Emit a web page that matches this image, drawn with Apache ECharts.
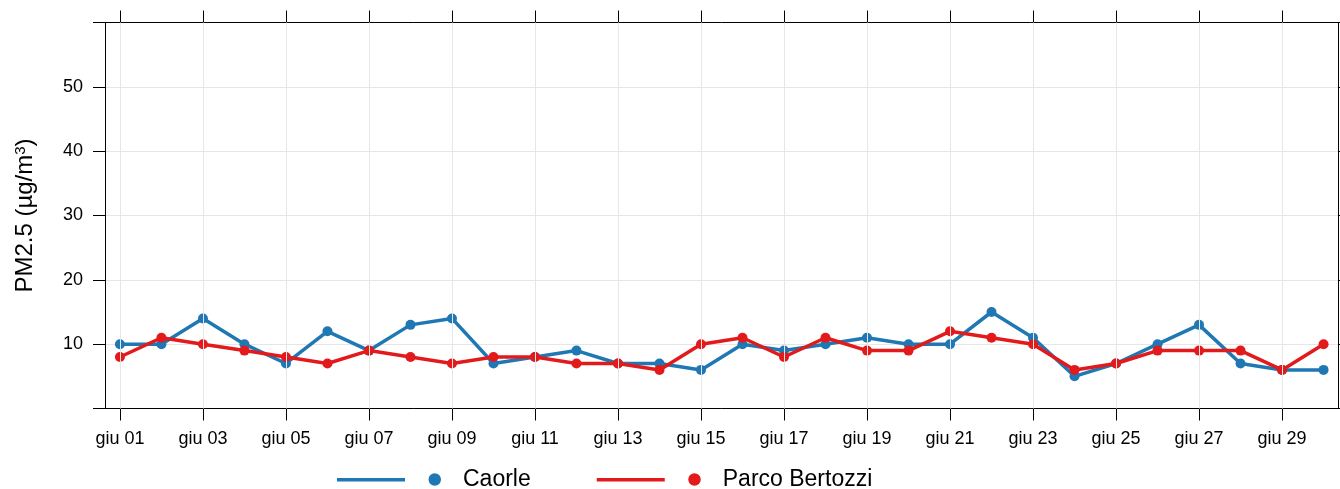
<!DOCTYPE html>
<html>
<head>
<meta charset="utf-8">
<script src="https://cdn.jsdelivr.net/npm/echarts@6/dist/echarts.min.js"></script>
<style>html,body{margin:0;padding:0;background:#fff}#c{width:1340px;height:489px}</style>
</head>
<body>
<div id="c"></div>
<script>
const days = [1,2,3,4,5,6,7,8,9,10,11,12,13,14,15,16,17,18,19,20,21,22,23,24,25,26,27,28,29,30];
const caorle = [10,10,14,10,7,12,9,13,14,7,8,9,7,7,6,10,9,10,11,10,10,15,11,5,7,10,13,7,6,6];
const parcoBertozzi = [8,11,10,9,8,7,9,8,7,8,8,7,7,6,10,11,8,11,9,9,12,11,10,6,7,9,9,9,6,10];
const xTickDays = [1,3,5,7,9,11,13,15,17,19,21,23,25,27,29];
const seriesNames = ['Caorle','Parco Bertozzi'];
const colors = ['#1f78b4','#e31a1c'];

const FONT = 'Liberation Sans, Arial, sans-serif';
const chart = echarts.init(document.getElementById('c'), null, {renderer:'canvas'});
const pad = d => 'giu ' + String(d).padStart(2,'0');
const iconPath = 'path://M0,5 L68,5 L68,8.5 L0,8.5 Z M91.5,6.5 A6.25,6.25 0 1 1 104,6.5 A6.25,6.25 0 1 1 91.5,6.5 Z';

const axisLineStyle = {color:'#000', width:1};
const lineSeries = [caorle, parcoBertozzi].map((vals,i)=>({
  name:seriesNames[i], type:'line', xAxisIndex:0, yAxisIndex:0,
  data: days.map((d,j)=>[d, vals[j]]),
  symbol:'circle', symbolSize:10, showSymbol:true,
  itemStyle:{color:colors[i]},
  lineStyle:{color:colors[i], width:3.5},
  z: 3+i
}));
const gridSeries = {
  name:'_grid', type:'line', data:[], xAxisIndex:0, yAxisIndex:0, z:1, silent:true,
  markLine:{
    silent:true, symbol:['none','none'], animation:false,
    label:{show:false},
    lineStyle:{color:'#e6e6e6', width:1, type:'solid'},
    emphasis:{disabled:true},
    data: xTickDays.map(d=>({xAxis:d}))
  }
};

chart.setOption({
  animation:false,
  grid:{left:105, right:1.5, top:22.5, bottom:80.5, containLabel:false},
  legend:{
    left:332, top:463, itemWidth:104, itemHeight:13, itemGap:66,
    textStyle:{fontFamily:FONT, fontSize:23, color:'#000', padding:[0,0,0,17]},
    data: seriesNames.map(n => ({name:n, icon: iconPath}))
  },
  xAxis:[{
    type:'value', min:0.64, max:30.36, position:'bottom',
    axisLine:{show:true, lineStyle:axisLineStyle},
    axisTick:{show:true, length:12, inside:false, customValues:xTickDays, lineStyle:axisLineStyle},
    axisLabel:{show:true, customValues:xTickDays, formatter:v=>pad(v), fontFamily:FONT, fontSize:18, color:'#000', margin:22},
    splitLine:{show:false}
  },{
    type:'value', position:'top', min:0.64, max:30.36, show:true,
    axisLine:{show:true, onZero:false, lineStyle:axisLineStyle},
    axisTick:{show:true, length:12, inside:false, customValues:xTickDays, lineStyle:axisLineStyle},
    axisLabel:{show:true, customValues:xTickDays, formatter:()=>'', fontSize:1},
    splitLine:{show:false}
  }],
  yAxis:[{
    type:'value', min:0, max:60, interval:10,
    name:'PM2.5 (µg/m{sup|3})', nameLocation:'middle', nameGap:68, nameRotate:90,
    nameTextStyle:{fontFamily:FONT, fontSize:24, color:'#000',
      rich:{sup:{fontFamily:FONT, fontSize:15, color:'#000', verticalAlign:'top', padding:[0,0,6,0]}}},
    axisLine:{show:true, lineStyle:axisLineStyle},
    axisTick:{show:true, length:12, inside:false, lineStyle:axisLineStyle},
    axisLabel:{show:true, formatter:v=>(v===0||v===60)?'':String(v), fontFamily:FONT, fontSize:18, color:'#000', margin:22},
    splitLine:{show:true, lineStyle:{color:'#e6e6e6', width:1}}
  },{
    type:'value', position:'right', min:0, max:60, interval:10,
    axisLine:{show:true, onZero:false, lineStyle:axisLineStyle},
    axisTick:{show:true, length:12, inside:false, lineStyle:axisLineStyle},
    axisLabel:{show:false},
    splitLine:{show:false}
  }],
  series:[gridSeries].concat(lineSeries)
});
</script>
</body>
</html>
